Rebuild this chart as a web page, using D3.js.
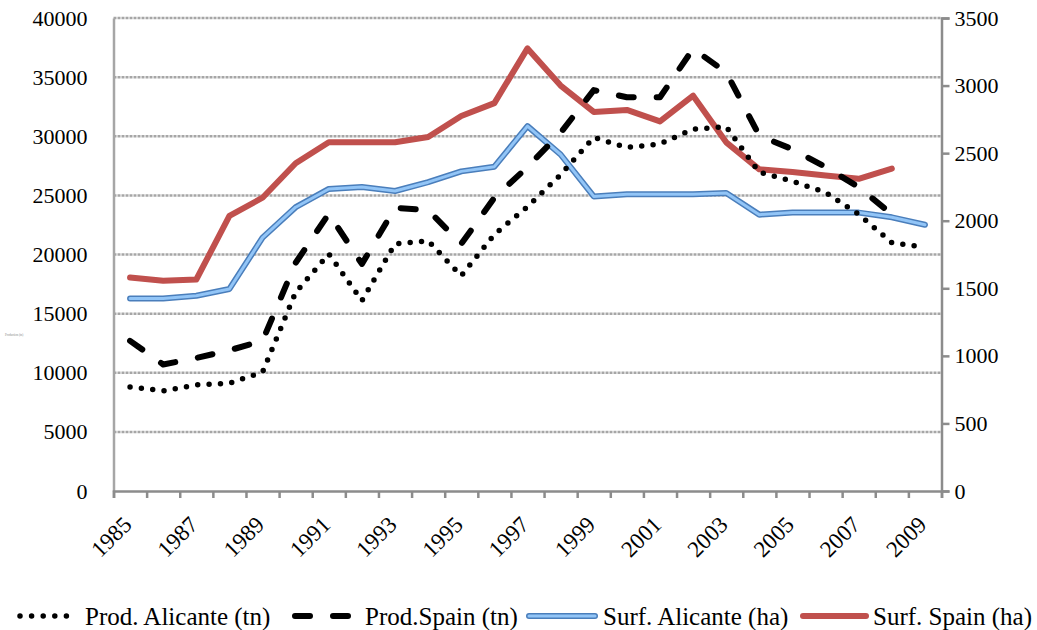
<!DOCTYPE html>
<html>
<head>
<meta charset="utf-8">
<script src="https://d3js.org/d3.v7.min.js"></script>
<style>
  body { margin: 0; background: #fff; }
  svg text { font-family: "Times New Roman", "Liberation Serif", "DejaVu Serif", serif; fill: #000; }
</style>
</head>
<body>
<div id="chart"></div>
<script>
// years on the category axis
const years = d3.range(1985, 2010);
const yearLabels = years.filter(y => y % 2 === 1);

// left axis series (tn)
const prodAlicante = [8800, 8470, 8970, 9120, 10050, 16800, 20050, 16100, 20900, 21150, 18200, 21700,
                      24050, 26750, 29900, 29050, 29350, 30600, 30800, 26950, 26200, 25250, 23400, 21000, 20600];
const prodSpain = [12700, 10700, 11250, 11900, 12700, 19300, 23450, 19200, 23950, 23750, 20900, 24800,
                   27400, 30300, 33900, 33300, 33300, 37400, 35400, 30050, 28900, 27400, 25700, 23400, null];

// right axis series (ha)
const surfAlicante = [1425, 1425, 1445, 1495, 1875, 2100, 2235, 2250, 2220, 2285, 2365, 2400,
                      2700, 2490, 2180, 2195, 2195, 2195, 2205, 2045, 2060, 2060, 2060, 2025, 1970];
const surfSpain = [1580, 1555, 1565, 2035, 2170, 2425, 2580, 2580, 2580, 2620, 2775, 2870,
                   3275, 3000, 2805, 2820, 2735, 2925, 2580, 2380, 2360, 2335, 2310, 2385, null];

const leftTicks = d3.range(0, 40001, 5000);
const rightTicks = d3.range(0, 3501, 500);

const FONT = '"Times New Roman", "Liberation Serif", "DejaVu Serif", serif';
const width = 1037, height = 630;
const plot = { left: 113.5, right: 941.5, top: 18, bottom: 491 };

const svg = d3.select("#chart").append("svg")
    .attr("width", width)
    .attr("height", height)
    .attr("font-family", FONT);

const x = d3.scaleBand().domain(years).range([plot.left, plot.right]).padding(0);
const xb = d3.scaleLinear().domain([0, years.length]).range([plot.left, plot.right]);
const yL = d3.scaleLinear().domain([0, 40000]).range([plot.bottom, plot.top]);
const yR = d3.scaleLinear().domain([0, 3500]).range([plot.bottom, plot.top]);
const cx = d => x(d) + x.bandwidth() / 2;

// gridlines
svg.append("g")
    .selectAll("line")
    .data(leftTicks.filter(d => d > 0))
    .join("line")
    .attr("x1", plot.left).attr("x2", plot.right)
    .attr("y1", d => yL(d)).attr("y2", d => yL(d))
    .attr("stroke", "#a6a6a6")
    .attr("stroke-width", 2.5)
    .attr("stroke-dasharray", "3 1");

// left axis
const gL = svg.append("g")
    .attr("transform", `translate(${plot.left},0)`)
    .call(d3.axisLeft(yL).tickValues(leftTicks).tickFormat(d3.format("d")).tickSize(0).tickPadding(26));
gL.attr("font-family", FONT).attr("font-size", 22);
gL.select(".domain").attr("stroke", "#a6a6a6").attr("stroke-width", 2.5);

// right axis
const gR = svg.append("g")
    .attr("transform", `translate(${plot.right},0)`)
    .call(d3.axisRight(yR).tickValues(rightTicks).tickFormat(d3.format("d")).tickSize(8).tickPadding(5));
gR.attr("font-family", FONT).attr("font-size", 22);
gR.select(".domain").attr("stroke", "#8c8c8c").attr("stroke-width", 2.5);
gR.selectAll("line").attr("stroke", "#8c8c8c").attr("stroke-width", 2.5);

// bottom axis (ticks between categories)
const gB = svg.append("g")
    .attr("transform", `translate(0,${plot.bottom})`)
    .call(d3.axisBottom(xb).ticks(years.length).tickSize(7).tickFormat(""));
gB.select(".domain").attr("stroke", "#8c8c8c").attr("stroke-width", 2.5);
gB.selectAll("line").attr("stroke", "#8c8c8c").attr("stroke-width", 2.5);

// rotated year labels
svg.append("g")
    .attr("font-size", 23)
    .selectAll("text")
    .data(yearLabels)
    .join("text")
    .attr("transform", d => `translate(${cx(d) + 3},${526}) rotate(-45)`)
    .attr("text-anchor", "end")
    .text(d => d);

// tiny axis title
svg.append("text")
    .attr("x", 5).attr("y", 336)
    .attr("font-size", 3)
    .style("fill", "#888")
    .text("Production (tn)");

// lines
const lineL = d3.line().defined(d => d.v != null).x(d => cx(d.year)).y(d => yL(d.v));
const lineR = d3.line().defined(d => d.v != null).x(d => cx(d.year)).y(d => yR(d.v));
const pts = arr => arr.map((v, i) => ({ year: years[i], v }));

svg.append("path").datum(pts(surfAlicante)).attr("d", lineR)
    .attr("fill", "none").attr("stroke", "#4a7ebb").attr("stroke-width", 6)
    .attr("stroke-linejoin", "round").attr("stroke-linecap", "round");
svg.append("path").datum(pts(surfAlicante)).attr("d", lineR)
    .attr("fill", "none").attr("stroke", "#92c5f7").attr("stroke-width", 3)
    .attr("stroke-linejoin", "round").attr("stroke-linecap", "round");

svg.append("path").datum(pts(surfSpain)).attr("d", lineR)
    .attr("fill", "none").attr("stroke", "#c0504d").attr("stroke-width", 6)
    .attr("stroke-linejoin", "round").attr("stroke-linecap", "round");

svg.append("path").datum(pts(prodAlicante)).attr("d", lineL)
    .attr("fill", "none").attr("stroke", "#000").attr("stroke-width", 5.5)
    .attr("stroke-dasharray", "0 11.4").attr("stroke-linecap", "round");

svg.append("path").datum(pts(prodSpain)).attr("d", lineL)
    .attr("fill", "none").attr("stroke", "#000").attr("stroke-width", 6)
    .attr("stroke-dasharray", "15 23").attr("stroke-linecap", "round")
    .attr("stroke-linejoin", "round");

// legend
const legendY = 616;
const legendItems = [
  { label: "Prod. Alicante (tn)", x1: 20, x2: 78, tx: 85, type: "dot" },
  { label: "Prod.Spain (tn)", x1: 295, x2: 350, tx: 365, type: "dash" },
  { label: "Surf. Alicante (ha)", x1: 529, x2: 595, tx: 603, type: "blue" },
  { label: "Surf. Spain (ha)", x1: 803, x2: 866, tx: 873, type: "red" }
];
const lg = svg.append("g").attr("font-size", 25);
legendItems.forEach(it => {
  if (it.type === "blue") {
    lg.append("line").attr("x1", it.x1).attr("x2", it.x2).attr("y1", legendY).attr("y2", legendY)
      .attr("stroke", "#4a7ebb").attr("stroke-width", 6).attr("stroke-linecap", "round");
    lg.append("line").attr("x1", it.x1).attr("x2", it.x2).attr("y1", legendY).attr("y2", legendY)
      .attr("stroke", "#92c5f7").attr("stroke-width", 3).attr("stroke-linecap", "round");
  } else if (it.type === "red") {
    lg.append("line").attr("x1", it.x1).attr("x2", it.x2).attr("y1", legendY).attr("y2", legendY)
      .attr("stroke", "#c0504d").attr("stroke-width", 6).attr("stroke-linecap", "round");
  } else {
    lg.append("line").attr("x1", it.x1).attr("x2", it.x2).attr("y1", legendY).attr("y2", legendY)
      .attr("stroke", "#000").attr("stroke-width", it.type === "dot" ? 5.5 : 6)
      .attr("stroke-dasharray", it.type === "dot" ? "0 11.6" : "15 23")
      .attr("stroke-linecap", "round");
  }
  lg.append("text").attr("x", it.tx).attr("y", 625).text(it.label);
});
</script>
</body>
</html>
